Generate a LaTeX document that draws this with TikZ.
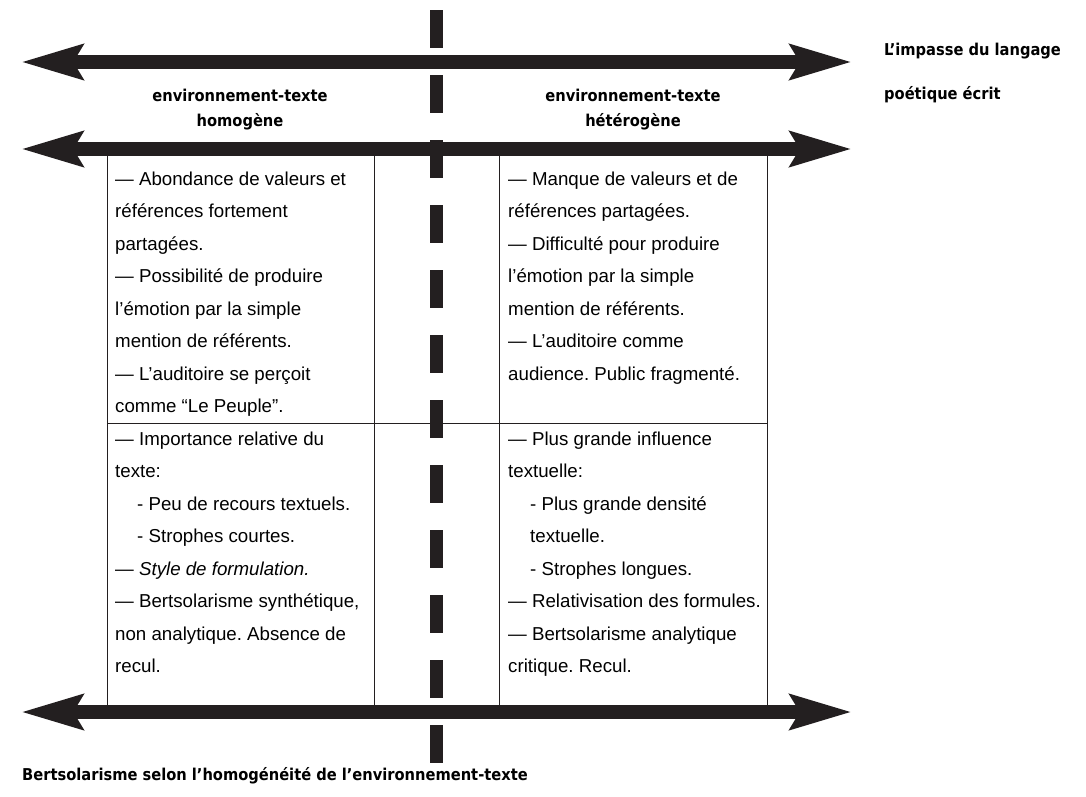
\documentclass[tikz,border=0pt]{standalone}
\usepackage{fontspec}
\setmainfont{Liberation Sans}
\newfontfamily\headfont{DejaVu Sans Condensed}
\usetikzlibrary{arrows.meta}
\definecolor{ink}{HTML}{231F20}
\frenchspacing
\tikzset{
  bigarrow/.style={ink, line width=14pt,
    {Stealth[length=61pt, width=34pt, inset=9pt]}-{Stealth[length=61pt, width=34pt, inset=9pt]}},
  rule/.style={ink, line width=1pt},
  divider/.style={ink, line width=13pt, dash pattern=on 38pt off 27pt},
  head/.style={font=\headfont\bfseries\fontsize{16.3pt}{25pt}\selectfont, align=center, inner sep=0pt},
  sidehead/.style={font=\headfont\bfseries\fontsize{16.3pt}{18pt}\selectfont, anchor=base west, inner sep=0pt},
  celltext/.style={anchor=base west, inner sep=0pt}
}
\newcommand{\cellbox}[1]{\parbox[t]{300pt}{\raggedright\frenchspacing\fontsize{18.7pt}{32.5pt}\selectfont #1\par}}
\newcommand{\ind}{\hspace*{22pt}}
\begin{document}
\begin{tikzpicture}[x=1pt, y=-1pt]
  \useasboundingbox (0,0) rectangle (1086,796);

  % table frame
  \coordinate (c1t) at (107,149); \coordinate (c1b) at (107,712);
  \coordinate (c2t) at (374,149); \coordinate (c2b) at (374,712);
  \coordinate (c3t) at (499,149); \coordinate (c3b) at (499,712);
  \coordinate (c4t) at (767,149); \coordinate (c4b) at (767,712);
  \coordinate (midL) at (107,423); \coordinate (midR) at (767,423);
  \draw[rule] (c1t) -- (c1b);
  \draw[rule] (c2t) -- (c2b);
  \draw[rule] (c3t) -- (c3b);
  \draw[rule] (c4t) -- (c4b);
  \draw[rule] (midL) -- (midR);

  % double-headed axes
  \coordinate (a1L) at (21,62);  \coordinate (a1R) at (852,62);
  \coordinate (a2L) at (21,149); \coordinate (a2R) at (852,149);
  \coordinate (a3L) at (21,712); \coordinate (a3R) at (852,712);
  \draw[bigarrow] (a1L) -- (a1R);
  \draw[bigarrow] (a2L) -- (a2R);
  \draw[bigarrow] (a3L) -- (a3R);

  % dashed separator
  \coordinate (dTop) at (436.5,10); \coordinate (dBot) at (436.5,764);
  \draw[divider] (dTop) -- (dBot);

  % column headings
  \node[head] (hL) at (240,110) {environnement-texte\\homogène};
  \node[head] (hR) at (633,110) {environnement-texte\\hétérogène};

  % side heading
  \node[sidehead] (s1) at (884,55) {L’impasse du langage};
  \node[sidehead] (s2) at (884,99) {poétique écrit};

  % caption
  \node[sidehead] (cap) at (22,780) {Bertsolarisme selon l’homogénéité de l’environnement-texte};

  % cell contents
  \node[celltext] (tl) at (115,185) {\cellbox{%
    — Abondance de valeurs et\\
    références fortement\\
    partagées.\\
    — Possibilité de produire\\
    l’émotion par la simple\\
    mention de référents.\\
    — L’auditoire se perçoit\\
    comme “Le Peuple”.}};
  \node[celltext] (tr) at (508,185) {\cellbox{%
    — Manque de valeurs et de\\
    références partagées.\\
    — Difficulté pour produire\\
    l’émotion par la simple\\
    mention de référents.\\
    — L’auditoire comme\\
    audience. Public fragmenté.}};
  \node[celltext] (bl) at (115,445) {\cellbox{%
    — Importance relative du\\
    texte:\\
    \ind- Peu de recours textuels.\\
    \ind- Strophes courtes.\\
    — \textit{Style de formulation.}\\
    — Bertsolarisme synthétique,\\
    non analytique. Absence de\\
    recul.}};
  \node[celltext] (br) at (508,445) {\cellbox{%
    — Plus grande influence\\
    textuelle:\\
    \ind- Plus grande densité\\
    \ind textuelle.\\
    \ind- Strophes longues.\\
    — Relativisation des formules.\\
    — Bertsolarisme analytique\\
    critique. Recul.}};
\end{tikzpicture}
\end{document}
